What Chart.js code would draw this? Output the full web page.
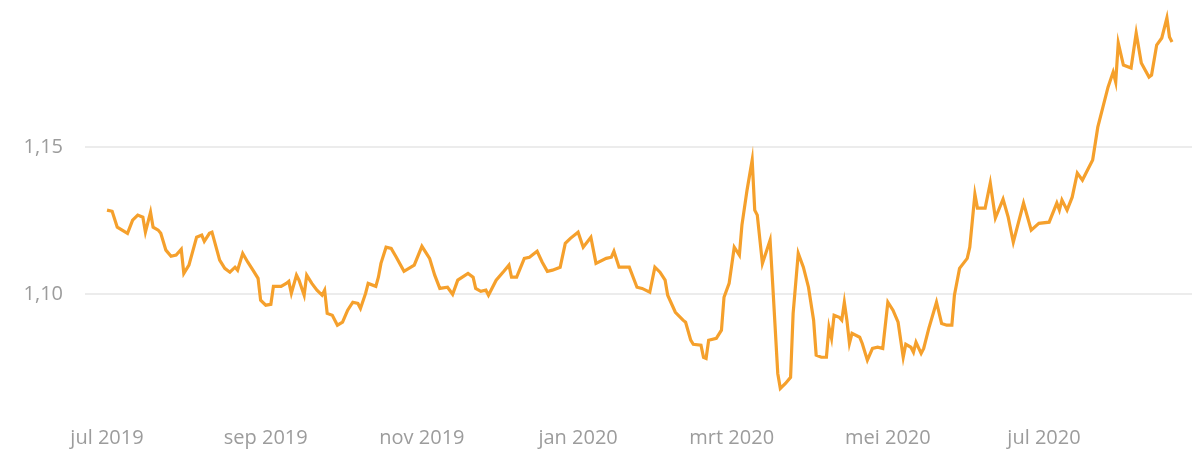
<!DOCTYPE html>
<html>
<head>
<meta charset="utf-8">
<script src="https://cdn.jsdelivr.net/npm/chart.js@4"></script>
<style>
  body { margin: 0; background: #fff; }
  #wrap { width: 1192px; height: 454px; }
</style>
</head>
<body>
<div id="wrap"><canvas id="koers" width="1192" height="454"></canvas></div>
<script>
// dagen sinds 1 jul 2019
const days = [0, 2, 4, 8, 10, 12, 14, 15, 17, 18, 20, 21, 23, 25, 27, 29, 30, 32, 35, 37,
  38, 40, 41, 44, 46, 48, 50, 51, 53, 55, 57, 59, 60, 62, 64, 65, 68, 70, 71, 72,
  74, 75, 77, 78, 80, 82, 84, 85, 86, 88, 90, 92, 94, 96, 98, 99, 101, 102, 105, 106,
  107, 109, 111, 113, 116, 120, 123, 126, 128, 130, 133, 135, 137, 141, 143, 144, 146, 148, 149, 152,
  155, 157, 158, 160, 163, 165, 168, 170, 172, 174, 177, 179, 181, 184, 186, 189, 191, 195, 197, 198,
  200, 202, 204, 207, 209, 212, 214, 216, 218, 219, 222, 225, 226, 228, 229, 232, 233, 234, 235, 238,
  240, 241, 243, 245, 247, 248, 250, 252, 253, 254, 256, 259, 260, 262, 263, 265, 267, 268, 270, 272,
  274, 276, 277, 279, 281, 282, 283, 284, 286, 287, 288, 289, 290, 291, 294, 295, 297, 299, 301, 303,
  305, 307, 309, 311, 312, 314, 315, 316, 318, 319, 321, 324, 326, 328, 330, 331, 333, 336, 337, 339,
  340, 343, 345, 347, 350, 352, 354, 358, 361, 364, 368, 371, 372, 373, 375, 377, 379, 381, 383, 385,
  387, 389, 391, 393, 394, 395, 397, 400, 402, 404, 407, 408, 410, 412, 414, 415, 416];

// EUR/USD
const rates = [1.1286, 1.1282, 1.1228, 1.1207, 1.1252, 1.1269, 1.1262, 1.1211, 1.1279, 1.1228,
  1.1218, 1.1207, 1.1150, 1.1129, 1.1133, 1.1153, 1.1071, 1.1099, 1.1194, 1.1201,
  1.1180, 1.1207, 1.1211, 1.1116, 1.1088, 1.1075, 1.1092, 1.1082, 1.1139, 1.1109,
  1.1082, 1.1054, 1.0980, 1.0963, 1.0966, 1.1027, 1.1027, 1.1037, 1.1044, 1.1003,
  1.1065, 1.1048, 1.0997, 1.1065, 1.1037, 1.1014, 1.0997, 1.1014, 1.0935, 1.0929,
  1.0895, 1.0905, 1.0946, 1.0973, 1.0969, 1.0952, 1.1003, 1.1037, 1.1027, 1.1058,
  1.1105, 1.1160, 1.1156, 1.1126, 1.1078, 1.1099, 1.1163, 1.1122, 1.1065, 1.1020,
  1.1024, 1.1000, 1.1048, 1.1071, 1.1058, 1.1020, 1.1010, 1.1014, 1.0997, 1.1048,
  1.1078, 1.1099, 1.1058, 1.1058, 1.1122, 1.1126, 1.1146, 1.1109, 1.1078, 1.1082,
  1.1092, 1.1173, 1.1190, 1.1211, 1.1160, 1.1194, 1.1105, 1.1122, 1.1126, 1.1146,
  1.1092, 1.1092, 1.1092, 1.1024, 1.1020, 1.1007, 1.1092, 1.1075, 1.1048, 1.0997,
  1.0939, 1.0912, 1.0905, 1.0844, 1.0830, 1.0827, 1.0786, 1.0782, 1.0844, 1.0850,
  1.0878, 1.0990, 1.1037, 1.1160, 1.1133, 1.1235, 1.1354, 1.1456, 1.1286, 1.1269,
  1.1105, 1.1184, 1.1037, 1.0731, 1.0680, 1.0697, 1.0718, 1.0935, 1.1139, 1.1092,
  1.1024, 1.0912, 1.0793, 1.0786, 1.0786, 1.0888, 1.0850, 1.0929, 1.0922, 1.0912,
  1.0973, 1.0912, 1.0833, 1.0867, 1.0854, 1.0833, 1.0776, 1.0816, 1.0820, 1.0816,
  1.0973, 1.0946, 1.0905, 1.0786, 1.0830, 1.0820, 1.0803, 1.0837, 1.0799, 1.0816,
  1.0884, 1.0973, 1.0901, 1.0895, 1.0895, 1.0997, 1.1088, 1.1122, 1.1160, 1.1340,
  1.1293, 1.1293, 1.1378, 1.1259, 1.1323, 1.1262, 1.1177, 1.1310, 1.1218, 1.1241,
  1.1245, 1.1310, 1.1286, 1.1320, 1.1286, 1.1330, 1.1412, 1.1388, 1.1422, 1.1456,
  1.1568, 1.1636, 1.1704, 1.1755, 1.1721, 1.1854, 1.1779, 1.1769, 1.1888, 1.1786,
  1.1738, 1.1745, 1.1847, 1.1871, 1.1939, 1.1874, 1.1857];

const monthDays = [0, 62, 123, 184, 244, 305, 366];
const monthLabels = ["jul 2019", "sep 2019", "nov 2019", "jan 2020", "mrt 2020", "mei 2020", "jul 2020"];
const yTicks = [1.10, 1.15];

const labelFont = { family: "'Open Sans', 'DejaVu Sans', sans-serif", size: 20 };
const labelColor = "#9c9c9c";

const points = days.map((d, i) => ({ x: d, y: rates[i] }));

const ctx = document.getElementById("koers").getContext("2d");

new Chart(ctx, {
  type: "line",
  data: {
    datasets: [
      {
        label: "EUR/USD",
        data: points,
        borderColor: "#f5a02c",
        borderWidth: 3.2,
        pointRadius: 0,
        tension: 0,
        fill: false,
      },
    ],
  },
  options: {
    responsive: false,
    animation: false,
    devicePixelRatio: 1,
    layout: { padding: { top: 0, right: 0, bottom: 4, left: 0 } },
    plugins: {
      legend: { display: false },
      tooltip: { enabled: false },
    },
    scales: {
      x: {
        type: "linear",
        min: -8.6,
        max: 423.8,
        grid: { display: false, drawTicks: false },
        border: { display: false },
        afterBuildTicks: (scale) => {
          scale.ticks = monthDays.map((d) => ({ value: d }));
        },
        afterFit: (scale) => {
          scale.height = 38;
          scale.paddingLeft = 0;
          scale.paddingRight = 0;
        },
        ticks: {
          autoSkip: false,
          maxRotation: 0,
          padding: 14,
          color: labelColor,
          font: labelFont,
          callback: (value, index) => monthLabels[index],
        },
      },
      y: {
        min: 1.06,
        max: 1.2,
        grid: { color: "#ececec", lineWidth: 2, drawTicks: false },
        border: { display: false },
        afterBuildTicks: (scale) => {
          scale.ticks = yTicks.map((v) => ({ value: v }));
        },
        afterFit: (scale) => {
          scale.width = 85;
          scale.paddingTop = 0;
          scale.paddingBottom = 0;
        },
        ticks: {
          padding: 22,
          color: labelColor,
          font: labelFont,
          callback: (value) => value.toFixed(2).replace(".", ","),
        },
      },
    },
  },
});
</script>
</body>
</html>
